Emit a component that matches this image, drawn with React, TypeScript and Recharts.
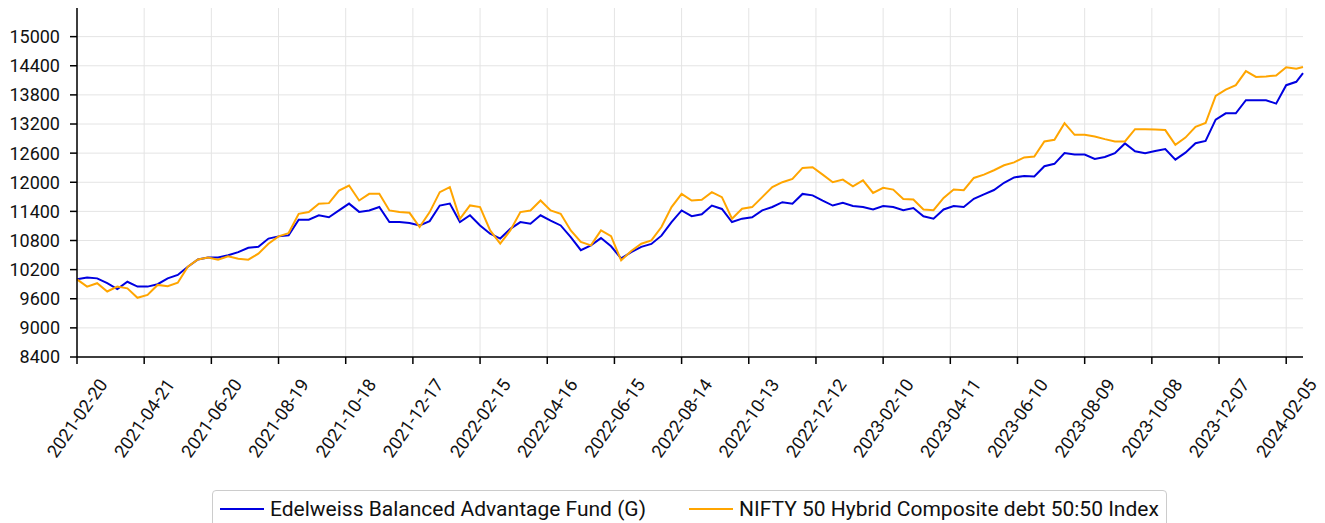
import { LineChart, Line, XAxis, YAxis, CartesianGrid, Legend } from 'recharts'

// NAV-style growth of 10000, sampled every 9 days from 2021-02-20 (last point 2024-02-20)
const fundValues = [
  10000, 10040, 10020, 9920, 9800, 9950, 9850, 9850, 9900, 10020,
  10090, 10260, 10410, 10450, 10450, 10495, 10560, 10650, 10670, 10840,
  10885, 10905, 11230, 11230, 11320, 11280, 11420, 11560, 11390, 11420,
  11490, 11180, 11180, 11160, 11110, 11200, 11520, 11560, 11180, 11320,
  11110, 10940, 10840, 11040, 11180, 11145, 11320, 11210, 11110, 10870,
  10600, 10700, 10850, 10680, 10430, 10560, 10670, 10730, 10900, 11180,
  11420, 11300, 11340, 11520, 11450, 11180, 11250, 11280, 11420, 11490,
  11590, 11560, 11760, 11730, 11620, 11520, 11575, 11510, 11490, 11440,
  11510, 11490, 11425, 11470, 11300, 11250, 11440, 11510, 11490, 11660,
  11750, 11840, 11990, 12100, 12130, 12120, 12330, 12380, 12600, 12570,
  12570, 12480, 12520, 12600, 12800, 12640, 12600, 12645, 12685, 12465,
  12610, 12805, 12850, 13290, 13420, 13420, 13690, 13690, 13690, 13620,
  14000, 14070, 14250,
]
const indexValues = [
  10000, 9850, 9920, 9750, 9850, 9815, 9620, 9680, 9885, 9860,
  9930, 10260, 10410, 10450, 10405, 10474, 10426, 10405, 10530, 10734,
  10885, 10953, 11350, 11385, 11556, 11570, 11830, 11933, 11625, 11762,
  11762, 11420, 11385, 11370, 11077, 11385, 11796, 11899, 11248, 11522,
  11488, 11008, 10734, 11008, 11385, 11419, 11625, 11419, 11351, 11008,
  10769, 10700, 11008, 10890, 10390, 10584, 10734, 10803, 11077, 11488,
  11762, 11625, 11638, 11796, 11693, 11248, 11454, 11488, 11693, 11899,
  12001, 12070, 12296, 12310, 12158, 12000, 12055, 11918, 12041, 11781,
  11884, 11849, 11657, 11644, 11438, 11425, 11678, 11849, 11836, 12089,
  12158, 12247, 12350, 12410, 12511, 12532, 12840, 12874, 13217, 12977,
  12977, 12943, 12888, 12840, 12840, 13093, 13093, 13085, 13075, 12770,
  12920, 13140, 13220, 13780, 13910, 14000, 14290, 14170, 14180, 14200,
  14370, 14340, 14373,
]
const seriesNames = ['Edelweiss Balanced Advantage Fund (G)', 'NIFTY 50 Hybrid Composite debt 50:50 Index']
const tickLabels = [
  '2021-02-20', '2021-04-21', '2021-06-20', '2021-08-19', '2021-10-18', '2021-12-17', '2022-02-15',
  '2022-04-16', '2022-06-15', '2022-08-14', '2022-10-13', '2022-12-12', '2023-02-10', '2023-04-11',
  '2023-06-10', '2023-08-09', '2023-10-08', '2023-12-07', '2024-02-05',
]
const yTicks = [8400, 9000, 9600, 10200, 10800, 11400, 12000, 12600, 13200, 13800, 14400, 15000]

const STEP_DAYS = 9
const LAST_DAY = 1095
const dayMs = 86400000
const startMs = Date.parse(tickLabels[0] + 'T00:00:00Z')
const toDay = (s: string) => Math.round((Date.parse(s + 'T00:00:00Z') - startMs) / dayMs)
const fmtDay = (d: number) => new Date(startMs + d * dayMs).toISOString().slice(0, 10)

const tickDays = tickLabels.map(toDay)
const data = fundValues.map((v, i) => ({
  day: Math.min(i * STEP_DAYS, LAST_DAY),
  fund: v,
  index: indexValues[i],
}))

const BLUE = '#0000e0'
const ORANGE = '#ffa500'

function DateTick({ x, y, payload }: any) {
  const cy = y + 52
  return (
    <text x={x} y={cy} transform={`rotate(-55, ${x}, ${cy})`} textAnchor="middle" dominantBaseline="central" fontSize={18} fill="#111">
      {fmtDay(payload.value)}
    </text>
  )
}

function LegendBox({ payload }: any) {
  return (
    <div style={{ display: 'inline-flex', alignItems: 'center', border: '1px solid #ccc', borderRadius: 4, padding: '6px 7px 8px', background: '#fff', fontSize: 21, lineHeight: '24px', color: '#111', whiteSpace: 'nowrap' }}>
      {(payload || []).map((p: any, i: number) => (
        <div key={p.value} style={{ display: 'flex', alignItems: 'center', marginLeft: i ? 43 : 0 }}>
          <span style={{ display: 'inline-block', width: 44, height: 2, background: p.color, marginRight: 6 }} />
          <span>{p.value}</span>
        </div>
      ))}
    </div>
  )
}

export default function App() {
  return (
    <div style={{ position: 'absolute', left: 0, top: 0, width: 1325, height: 523, background: '#fff', fontFamily: 'Roboto, sans-serif', overflow: 'hidden' }}>
      <LineChart width={1325} height={523} data={data} margin={{ top: 8, right: 22, left: 0, bottom: 0 }}>
        <CartesianGrid stroke="#e4e4e4" strokeWidth={1} syncWithTicks />
        <XAxis
          type="number"
          dataKey="day"
          domain={[0, LAST_DAY]}
          ticks={tickDays}
          interval={0}
          height={166}
          tick={<DateTick />}
          tickSize={7}
          axisLine={{ stroke: '#000', strokeWidth: 1.5 }}
          tickLine={{ stroke: '#000', strokeWidth: 1.5 }}
        />
        <YAxis
          domain={[8400, 15590]}
          ticks={yTicks}
          interval={0}
          width={77}
          tickSize={7}
          tickMargin={10}
          tick={{ fontSize: 18, fill: '#111' }}
          axisLine={{ stroke: '#000', strokeWidth: 1.5 }}
          tickLine={{ stroke: '#000', strokeWidth: 1.5 }}
        />
        <Legend verticalAlign="middle" align="center" wrapperStyle={{ left: 212, top: 490, width: 'auto' }} content={<LegendBox />} />
        <Line type="linear" dataKey="fund" name={seriesNames[0]} stroke={BLUE} strokeWidth={2} dot={false} isAnimationActive={false} />
        <Line type="linear" dataKey="index" name={seriesNames[1]} stroke={ORANGE} strokeWidth={2} dot={false} isAnimationActive={false} />
      </LineChart>
    </div>
  )
}
